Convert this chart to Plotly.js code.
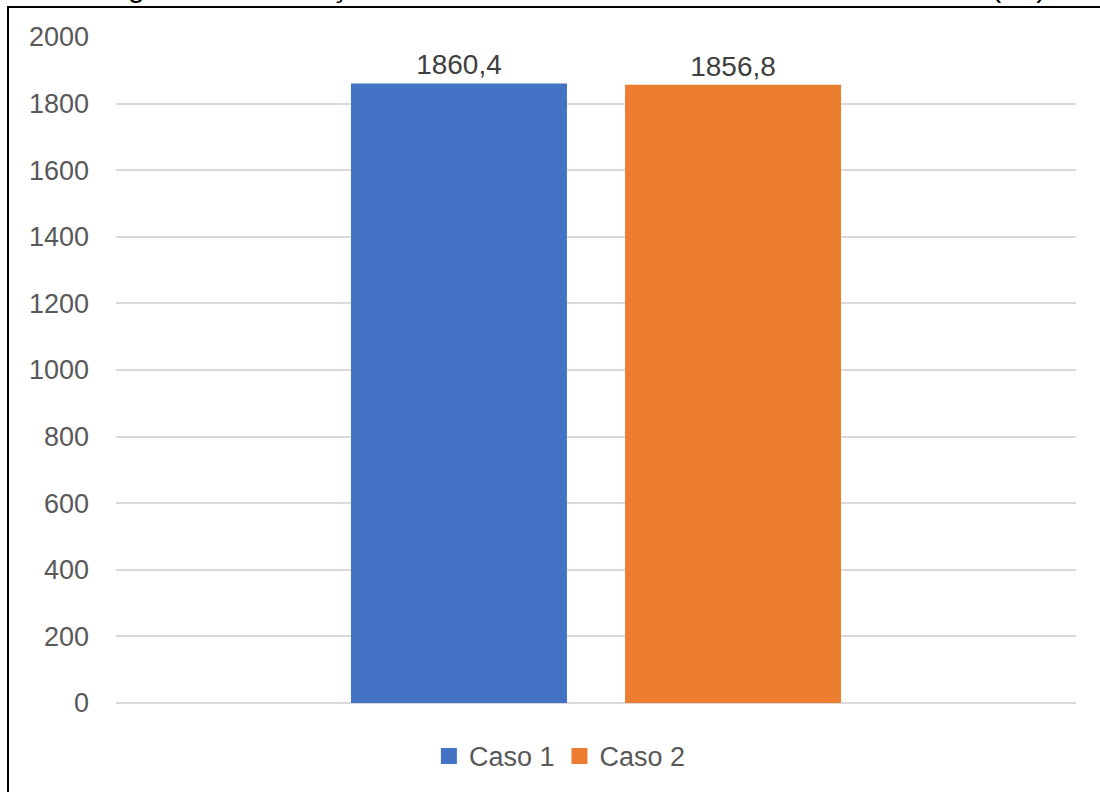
<!DOCTYPE html>
<html>
<head>
<meta charset="utf-8">
<script src="https://cdn.plot.ly/plotly-3.0.1.min.js"></script>
<style>
  html, body { margin: 0; padding: 0; background: #fff; }
  #wrap { position: relative; width: 1100px; height: 792px; overflow: hidden; }
  #chart { position: absolute; left: 0; top: 0; width: 1100px; height: 792px; }
  #frame { position: absolute; left: 7px; top: 6px; width: 1200px; height: 900px;
           border-left: 2px solid #000; border-top: 2px solid #000; pointer-events: none; }
</style>
</head>
<body>
<div id="wrap">
  <div id="chart"></div>
  <div id="frame"></div>
</div>
<script>
// Área de formas por caso (m²)
const categories = ['Área de formas'];
const seriesNames = ['Caso 1', 'Caso 2'];
const caso1 = [1860.4];
const caso2 = [1856.8];
const yTicks = [0, 200, 400, 600, 800, 1000, 1200, 1400, 1600, 1800, 2000];
const captionText = 'Figura 36 – Variação da área de formas dos elementos estruturais (m²)';

const colors = ['#4472C4', '#ED7D31'];
const FONT = 'Liberation Sans, Arial, sans-serif';

const bars = [caso1, caso2].map((vals, i) => ({
  type: 'bar',
  name: seriesNames[i],
  x: categories,
  y: vals,
  marker: { color: colors[i] },
  texttemplate: '%{y:.1f}',
  textposition: 'outside',
  textfont: { family: FONT, size: 28, color: '#404040' },
  cliponaxis: false,
  showlegend: false,
  hoverinfo: 'skip'
}));

// legend entries with larger square swatches
const legendItems = seriesNames.map((name, i) => ({
  type: 'scatter',
  mode: 'markers',
  name: name,
  x: [null],
  y: [null],
  marker: { color: colors[i], symbol: 'square', size: 18 },
  showlegend: true,
  hoverinfo: 'skip'
}));

const layout = {
  width: 1100,
  height: 792,
  margin: { l: 116, r: 24, t: 37, b: 89 },
  paper_bgcolor: '#ffffff',
  plot_bgcolor: '#ffffff',
  separators: ', ',
  font: { family: FONT, size: 27, color: '#595959' },
  barmode: 'group',
  bargap: 0.429,
  bargroupgap: 0.212,
  showlegend: true,
  legend: {
    orientation: 'h',
    xref: 'container', x: 0.509, xanchor: 'center',
    yref: 'container', y: 0.045, yanchor: 'middle',
    font: { family: FONT, size: 27, color: '#595959' },
    itemsizing: 'trace',
    itemwidth: 30,
    tracegroupgap: 0
  },
  xaxis: {
    type: 'category',
    range: [-0.5, 0.5],
    showticklabels: false,
    showgrid: false,
    zeroline: false,
    showline: false,
    ticks: ''
  },
  yaxis: {
    range: [0, 2000],
    tickvals: yTicks,
    ticktext: yTicks.map(String),
    showgrid: true,
    gridcolor: '#D9D9D9',
    gridwidth: 2,
    zeroline: true,
    zerolinecolor: '#D9D9D9',
    zerolinewidth: 2,
    showline: false,
    ticks: '',
    ticklabelstandoff: 26,
    tickfont: { family: FONT, size: 27, color: '#595959' }
  },
  annotations: [{
    text: captionText,
    xref: 'paper', x: 0.478, xanchor: 'center',
    yref: 'paper', y: 1, yanchor: 'bottom',
    yshift: 32,
    showarrow: false,
    font: { family: FONT, size: 30, color: '#000000' }
  }]
};

Plotly.newPlot('chart', bars.concat(legendItems), layout, { staticPlot: true, displayModeBar: false });
</script>
</body>
</html>
